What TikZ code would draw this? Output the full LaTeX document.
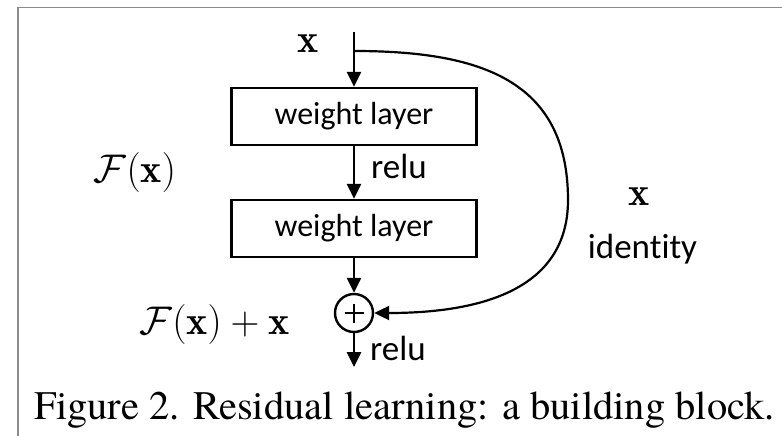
\RequirePackage{fix-cm}
\documentclass[tikz,border=0pt]{standalone}
\usepackage{fontspec}
\newfontfamily\timesfam{texgyretermes-regular.otf}
\newfontfamily\carlitofam[Ligatures={NoCommon}]{Carlito}
\usetikzlibrary{arrows.meta}
\begin{document}
\begin{tikzpicture}[x=1pt,y=-1pt,
  arr/.style={line width=2.6pt,-{Triangle[length=15pt,width=14pt]}},
  wbox/.style={draw,line width=2.4pt,minimum width=245pt,minimum height=57pt,inner sep=0pt,font=\carlitofam\fontsize{32}{38}\selectfont},
  lab/.style={font=\carlitofam\fontsize{35}{42}\selectfont,inner sep=0pt},
  mth/.style={font=\fontsize{40}{48}\selectfont,inner sep=0pt},
  addnode/.style={circle,draw,line width=2.4pt,minimum size=38pt,inner sep=0pt},
  frame/.style={draw=black!45,line width=1.5pt},
  captext/.style={font=\timesfam\fontsize{40.5}{48}\selectfont,inner sep=0pt},
]
\useasboundingbox (0,0) rectangle (782,436);
\draw[frame] (18,436) -- (18,7.5) -- (782,7.5);

\coordinate (top) at (354,32);
\coordinate (br) at (354,51);
\node[wbox] (w1) at (354,116.5) {weight layer};
\node[wbox] (w2) at (354,228.5) {weight layer};
\node[addnode] (add) at (354,313) {};
\draw[line width=2.6pt] (add.center) ++(-9.5,0) -- ++(19,0);
\draw[line width=2.6pt] (add.center) ++(0,-9.5) -- ++(0,19);
\coordinate (out) at (354,367);

\draw[line width=2.6pt] (top) -- (br);
\draw[arr] (br) -- (w1.north);
\draw[arr] (w1.south) -- (w2.north);
\draw[arr] (w2.south) -- (add.north);
\draw[arr] (add.south) -- (out);
\draw[line width=2.2pt,-{Triangle[length=15pt,width=14pt]}] (br) .. controls (480,51) and (568,80) .. (568,200) .. controls (568,290) and (480,313) .. (add.east);

\node[mth,anchor=base] (xin) at (308,53) {$\mathbf{x}$};
\node[mth,anchor=base] (fx) at (135,182) {$\mathcal{F}(\mathbf{x})$};
\node[mth,anchor=base] (fxx) at (214.5,334) {$\mathcal{F}(\mathbf{x})+\mathbf{x}$};
\node[mth,anchor=base] (xid) at (639,205) {$\mathbf{x}$};
\node[lab,anchor=base west] (r1) at (371,178) {relu};
\node[lab,anchor=base west] (r2) at (370,360) {relu};
\node[lab,anchor=base] (id) at (642.5,258) {identity};
\node[captext,anchor=base] (cap) at (404.5,419) {Figure 2. Residual learning: a building block.};
\end{tikzpicture}
\end{document}
